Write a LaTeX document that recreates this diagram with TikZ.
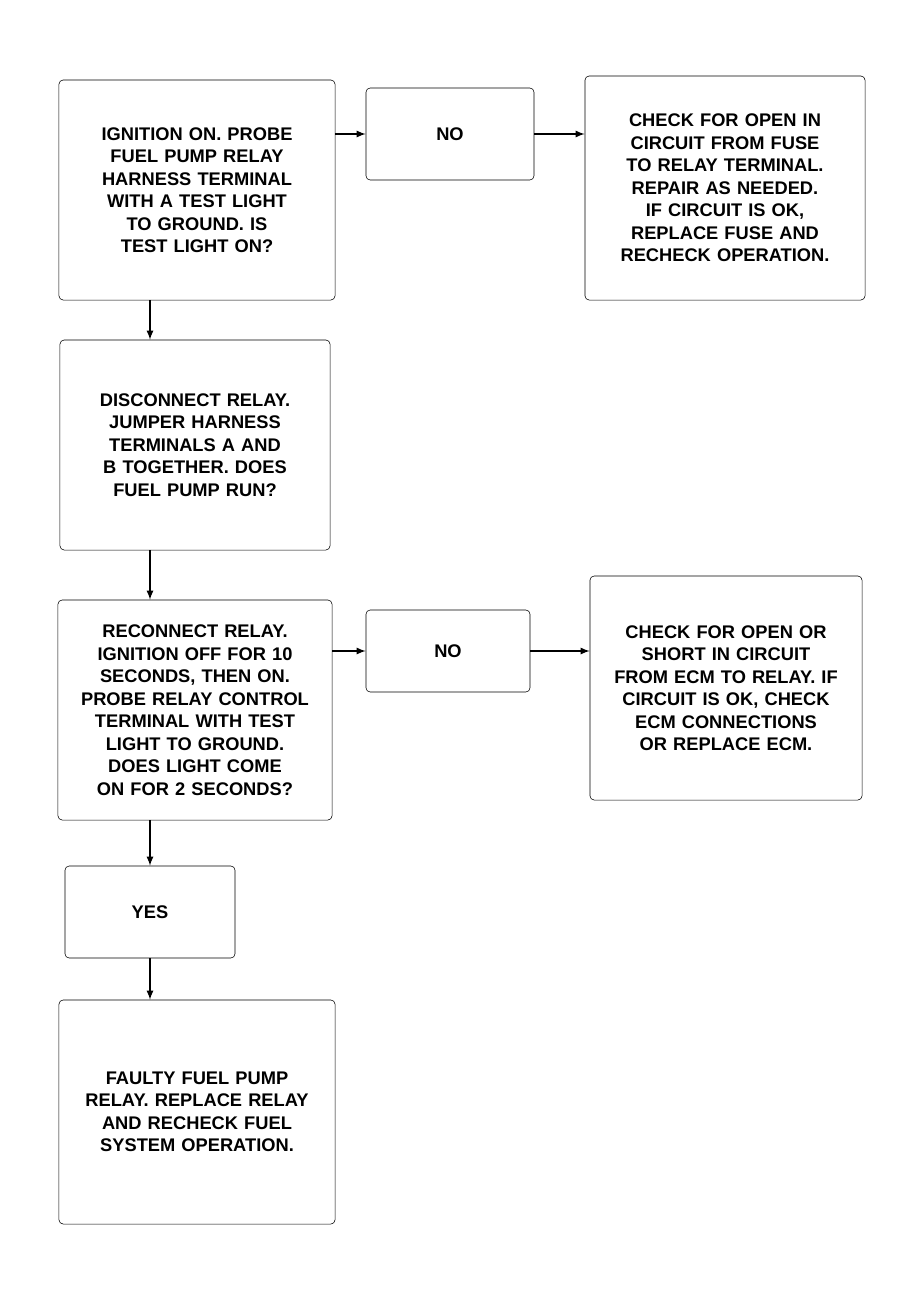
\documentclass[tikz,border=0pt]{standalone}
\usepackage{fontspec}
\setmainfont{Liberation Sans}
\usepackage{tikz}
\usetikzlibrary{arrows}

\newcommand{\chartfont}{\fontsize{13}{16}\selectfont\bfseries\hyphenpenalty=10000\relax}

\tikzset{
  chartbox/.style={draw, thin, rounded corners=3pt, align=center,
    font=\chartfont, inner sep=4pt},
  answerbox/.style={chartbox, minimum width=4.2cm, minimum height=2.2cm}
}

\begin{document}
\begin{tikzpicture}[x=0.025cm, y=-0.025cm, >=latex, very thick]
	     \useasboundingbox (0,0) rectangle (904,1302);

	     \node[chartbox, minimum width=6.9cm, minimum height=5.5cm, text width=5.4cm] (relayfeed) at (197,190)
	     	{IGNITION ON. PROBE FUEL PUMP RELAY HARNESS TERMINAL WITH A TEST LIGHT TO GROUND. IS TEST LIGHT ON?};
	     \node[answerbox, minimum height=2.3cm] (no1) at (450,134) {NO};
	     \node[chartbox, minimum width=7cm, minimum height=5.6cm, text width=5.6cm] (fusecheck) at (725,188)
	     	{CHECK FOR OPEN IN CIRCUIT FROM FUSE TO RELAY TERMINAL. REPAIR AS NEEDED. IF CIRCUIT IS OK, REPLACE FUSE AND RECHECK OPERATION.};
	     \node[chartbox, minimum width=6.75cm, minimum height=5.25cm, text width=5.1cm] (jumper) at (195,445)
	     	{DISCONNECT RELAY. JUMPER HARNESS TERMINALS A AND B TOGETHER. DOES FUEL PUMP RUN?};
	     \node[chartbox, minimum width=6.85cm, minimum height=5.5cm, text width=6cm] (ecmsig) at (195,710)
	     	{RECONNECT RELAY. IGNITION OFF FOR 10 SECONDS, THEN ON. PROBE RELAY CONTROL TERMINAL WITH TEST LIGHT TO GROUND. DOES LIGHT COME ON FOR 2 SECONDS?};
	     \node[answerbox, minimum width=4.1cm, minimum height=2.05cm] (no2) at (448,651) {NO};
	     \node[chartbox, minimum width=6.8cm, minimum height=5.6cm, text width=5.6cm] (ecmcheck) at (726,688)
	     	{CHECK FOR OPEN OR SHORT IN CIRCUIT FROM ECM TO RELAY. IF CIRCUIT IS OK, CHECK ECM CONNECTIONS OR REPLACE ECM.};
	     \node[answerbox, minimum width=4.25cm, minimum height=2.3cm] (yes) at (150,912) {YES};
	     \node[chartbox, minimum width=6.9cm, minimum height=5.6cm, text width=5.7cm] (replace) at (197,1112)
	     	{FAULTY FUEL PUMP RELAY. REPLACE RELAY AND RECHECK FUEL SYSTEM OPERATION.};

	     \path[->]
	     	(no1.west -| relayfeed.east) edge (no1.west)
		(no1) edge (fusecheck.west |- no1)
		(no2.west -| ecmsig.east) edge (no2.west)
		(no2) edge (ecmcheck.west |- no2)
		(relayfeed.south -| yes) edge (jumper.north -| yes)
		(jumper.south -| yes) edge (ecmsig.north -| yes)
		(ecmsig.south -| yes) edge (yes)
		(yes) edge (replace.north -| yes)
	      ;
\end{tikzpicture}
\end{document}
